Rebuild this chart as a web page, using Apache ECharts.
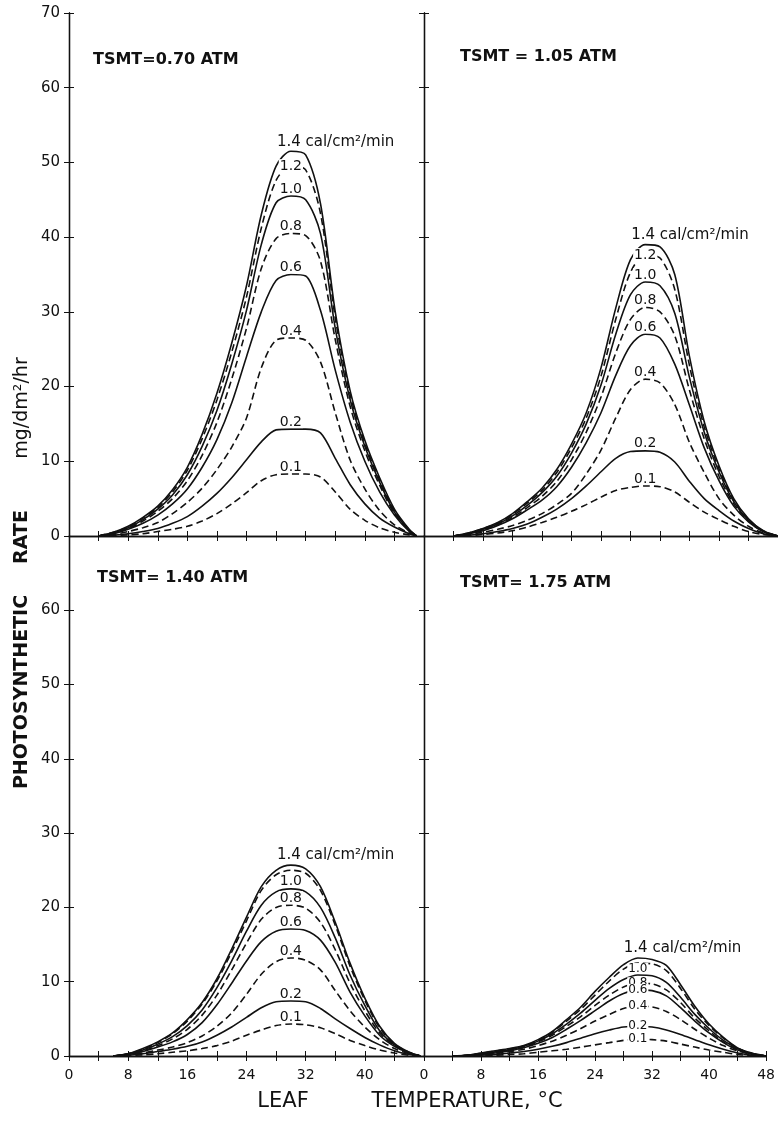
<!DOCTYPE html>
<html>
<head>
<meta charset="utf-8">
<script src="https://cdn.jsdelivr.net/npm/echarts@6/dist/echarts.min.js"></script>
<style>
  html, body { margin: 0; padding: 0; background: #fff; }
  #chart { width: 778px; height: 1124px; }
</style>
</head>
<body>
<div id="chart"></div>
<script>
// leaf temperature, deg C (x values of the read-off points)
var tempTL = [4, 6, 8, 10, 12, 14, 16, 18, 20, 22, 24, 26, 28, 30, 32, 34, 36, 38, 40, 42, 44, 46, 47];
var tempTR = [4, 6, 8, 10, 12, 14, 16, 18, 20, 22, 24, 26, 28, 30, 32, 34, 36, 38, 40, 42, 44, 46, 48];
var tempBL = [6, 8, 10, 12, 14, 16, 18, 20, 22, 24, 26, 28, 30, 32, 34, 36, 38, 40, 42, 44, 46, 47.5];
var tempBR = [4, 6, 8, 10, 12, 14, 16, 18, 20, 22, 24, 26, 28, 30, 32, 34, 36, 38, 40, 42, 44, 46, 48];

// irradiance levels, cal/cm2/min
var irradiance = ['1.4', '1.2', '1.0', '0.8', '0.6', '0.4', '0.2', '0.1'];

// TSMT = 0.70 ATM
var tl14 = [0, 0.5, 1.3, 2.5, 4.0, 6.2, 9.2, 13.6, 19.1, 25.8, 33.5, 43.0, 49.5, 51.5, 51.0, 44.5, 30.0, 19.5, 12.8, 7.8, 3.6, 0.9, 0];
var tl12 = [0, 0.5, 1.2, 2.4, 3.8, 5.9, 8.8, 13.0, 18.2, 24.6, 32.0, 41.2, 47.6, 49.5, 49.0, 43.2, 29.2, 19.0, 12.4, 7.5, 3.4, 0.8, 0];
var tl10 = [0, 0.4, 1.1, 2.2, 3.6, 5.5, 8.2, 12.0, 16.8, 23.0, 30.2, 39.0, 44.6, 45.5, 45.0, 40.5, 27.8, 18.3, 12.0, 7.2, 3.2, 0.8, 0];
var tl08 = [0, 0.4, 1.0, 2.0, 3.3, 5.0, 7.4, 10.8, 15.2, 21.0, 27.8, 35.8, 39.8, 40.5, 40.2, 36.8, 26.3, 17.4, 11.4, 6.8, 3.0, 0.7, 0];
var tl06 = [0, 0.3, 0.9, 1.7, 2.8, 4.3, 6.3, 9.2, 12.9, 17.8, 24.0, 30.0, 34.2, 35.0, 34.8, 30.2, 22.2, 15.3, 10.0, 5.9, 2.8, 0.6, 0];
var tl04 = [0, 0.2, 0.6, 1.1, 1.8, 3.0, 4.5, 6.4, 8.9, 11.9, 15.8, 22.5, 26.2, 26.5, 26.2, 23.3, 16.5, 10.2, 6.3, 3.4, 1.5, 0.4, 0];
var tl02 = [0, 0.1, 0.3, 0.6, 1.0, 1.7, 2.6, 4.0, 5.7, 7.8, 10.2, 12.6, 14.2, 14.3, 14.3, 13.8, 10.4, 6.9, 4.3, 2.4, 1.2, 0.3, 0];
var tl01 = [0, 0.05, 0.15, 0.3, 0.6, 0.9, 1.3, 2.0, 3.0, 4.3, 5.8, 7.4, 8.2, 8.3, 8.3, 7.9, 5.9, 3.6, 2.1, 1.1, 0.5, 0.15, 0];

// TSMT = 1.05 ATM
var tr14 = [0, 0.4, 1.0, 1.8, 3.0, 4.6, 6.4, 8.9, 12.3, 16.5, 22.5, 30.5, 37.0, 39.0, 38.7, 35.0, 24.0, 15.3, 9.4, 5.0, 2.3, 0.7, 0];
var tr12 = [0, 0.4, 1.0, 1.7, 2.9, 4.4, 6.1, 8.5, 11.8, 15.8, 21.4, 29.0, 35.3, 37.6, 37.2, 33.0, 22.8, 14.6, 9.0, 4.8, 2.2, 0.7, 0];
var tr10 = [0, 0.3, 0.9, 1.6, 2.7, 4.1, 5.8, 8.0, 11.1, 15.0, 20.2, 27.0, 32.3, 34.0, 33.5, 29.8, 21.2, 13.9, 8.6, 4.6, 2.1, 0.6, 0];
var tr08 = [0, 0.3, 0.8, 1.5, 2.5, 3.8, 5.3, 7.3, 10.2, 13.9, 18.6, 24.5, 29.0, 30.6, 30.0, 26.8, 19.5, 13.0, 8.0, 4.3, 2.0, 0.6, 0];
var tr06 = [0, 0.3, 0.7, 1.4, 2.3, 3.5, 4.8, 6.6, 9.2, 12.5, 16.5, 21.5, 25.5, 27.0, 26.5, 23.0, 17.5, 11.8, 7.4, 4.0, 1.9, 0.6, 0];
var tr04 = [0, 0.2, 0.5, 0.9, 1.4, 2.1, 3.0, 4.2, 5.7, 8.3, 11.5, 15.8, 19.6, 21.0, 20.5, 17.6, 12.5, 8.5, 5.0, 2.8, 1.3, 0.4, 0];
var tr02 = [0, 0.1, 0.3, 0.6, 1.0, 1.6, 2.5, 3.6, 5.0, 6.7, 8.6, 10.4, 11.3, 11.4, 11.2, 9.9, 7.3, 5.0, 3.4, 2.0, 1.0, 0.3, 0];
var tr01 = [0, 0.05, 0.2, 0.4, 0.7, 1.2, 1.8, 2.5, 3.3, 4.2, 5.2, 6.1, 6.5, 6.7, 6.6, 5.9, 4.5, 3.2, 2.2, 1.3, 0.6, 0.2, 0];

// TSMT = 1.40 ATM
var bl14 = [0, 0.3, 1.0, 1.9, 3.1, 4.9, 7.2, 10.4, 14.4, 18.7, 22.8, 25.0, 25.7, 25.2, 22.8, 18.0, 12.5, 7.8, 4.0, 1.7, 0.5, 0];
var bl12 = [0, 0.3, 0.9, 1.8, 3.0, 4.7, 7.0, 10.1, 14.0, 18.2, 22.3, 24.4, 25.0, 24.6, 22.3, 17.6, 12.1, 7.5, 3.8, 1.6, 0.5, 0];
var bl10 = [0, 0.3, 0.8, 1.6, 2.6, 4.1, 6.2, 9.2, 12.8, 16.8, 20.3, 22.1, 22.5, 22.1, 20.0, 15.9, 10.9, 6.8, 3.4, 1.5, 0.45, 0];
var bl08 = [0, 0.25, 0.7, 1.4, 2.3, 3.6, 5.5, 8.2, 11.6, 15.2, 18.4, 20.0, 20.3, 19.9, 18.0, 14.3, 9.8, 6.1, 3.1, 1.4, 0.4, 0];
var bl06 = [0, 0.2, 0.6, 1.2, 1.9, 2.9, 4.5, 6.9, 9.8, 12.8, 15.4, 16.8, 17.1, 16.9, 15.6, 12.6, 8.6, 5.4, 2.8, 1.3, 0.4, 0];
var bl04 = [0, 0.15, 0.4, 0.8, 1.2, 1.8, 2.7, 4.0, 5.8, 8.3, 11.0, 12.7, 13.2, 12.9, 11.6, 8.8, 6.1, 3.9, 2.2, 1.0, 0.3, 0];
var bl02 = [0, 0.1, 0.3, 0.6, 0.9, 1.3, 1.9, 2.8, 3.9, 5.2, 6.5, 7.3, 7.4, 7.3, 6.4, 5.0, 3.7, 2.5, 1.5, 0.7, 0.2, 0];
var bl01 = [0, 0.05, 0.15, 0.3, 0.5, 0.7, 1.0, 1.4, 2.0, 2.8, 3.5, 4.1, 4.3, 4.2, 3.8, 3.0, 2.1, 1.4, 0.8, 0.4, 0.1, 0];

// TSMT = 1.75 ATM
var br14 = [0, 0.1, 0.4, 0.7, 1.0, 1.4, 2.2, 3.3, 4.9, 6.6, 8.7, 10.6, 12.3, 13.2, 13.0, 12.2, 9.6, 6.7, 4.3, 2.5, 1.1, 0.4, 0];
var br12 = [0, 0.1, 0.35, 0.65, 0.95, 1.35, 2.1, 3.2, 4.7, 6.3, 8.2, 10.1, 11.7, 12.5, 12.4, 11.5, 9.1, 6.3, 4.1, 2.4, 1.05, 0.35, 0];
var br10 = [0, 0.09, 0.3, 0.55, 0.85, 1.3, 2.0, 3.0, 4.3, 5.8, 7.5, 9.1, 10.3, 10.9, 10.8, 9.9, 7.9, 5.6, 3.7, 2.1, 1.0, 0.3, 0];
var br08 = [0, 0.08, 0.25, 0.5, 0.8, 1.2, 1.9, 2.8, 4.0, 5.3, 6.8, 8.2, 9.3, 9.8, 9.7, 8.9, 7.2, 5.1, 3.4, 1.9, 0.9, 0.3, 0];
var br06 = [0, 0.07, 0.2, 0.4, 0.7, 1.1, 1.7, 2.5, 3.6, 4.8, 6.1, 7.4, 8.4, 8.9, 8.8, 8.1, 6.5, 4.7, 3.1, 1.8, 0.8, 0.25, 0];
var br04 = [0, 0.05, 0.15, 0.3, 0.6, 0.9, 1.4, 2.0, 2.8, 3.7, 4.7, 5.6, 6.4, 6.7, 6.6, 6.0, 4.9, 3.6, 2.4, 1.4, 0.7, 0.2, 0];
var br02 = [0, 0.05, 0.1, 0.2, 0.4, 0.6, 0.9, 1.3, 1.8, 2.4, 3.0, 3.5, 3.9, 4.0, 3.9, 3.5, 2.9, 2.2, 1.5, 0.9, 0.4, 0.1, 0];
var br01 = [0, 0.02, 0.05, 0.1, 0.2, 0.3, 0.5, 0.7, 0.9, 1.2, 1.5, 1.8, 2.1, 2.3, 2.2, 2.0, 1.6, 1.2, 0.8, 0.5, 0.2, 0.05, 0];

// axis ticks
var xTickStep = 4;
var xLabelStep = 8;
var yTickStep = 10;

var ink = '#111';
var font = 'DejaVu Sans';

var panels = [
    { title: 'TSMT=0.70 ATM', temps: tempTL, curves: [tl14, tl12, tl10, tl08, tl06, tl04, tl02, tl01],
      labelled: [1, 1, 1, 1, 1, 1, 1, 1], inline: ['1.2'] },
    { title: 'TSMT = 1.05 ATM', temps: tempTR, curves: [tr14, tr12, tr10, tr08, tr06, tr04, tr02, tr01],
      labelled: [1, 1, 1, 1, 1, 1, 1, 1], inline: ['1.2'] },
    { title: 'TSMT= 1.40 ATM', temps: tempBL, curves: [bl14, bl12, bl10, bl08, bl06, bl04, bl02, bl01],
      labelled: [1, 0, 1, 1, 1, 1, 1, 1], inline: [] },
    { title: 'TSMT= 1.75 ATM', temps: tempBR, curves: [br14, br12, br10, br08, br06, br04, br02, br01],
      labelled: [1, 0, 1, 1, 1, 1, 1, 1], inline: ['0.8', '0.6', '0.4', '0.2', '0.1'] }
];

// layout of the four frames (px)
var grids = [
    { left: 69, top: 13, width: 355, height: 523 },
    { left: 424, top: 13, width: 354, height: 523 },
    { left: 69, top: 536, width: 355, height: 520 },
    { left: 424, top: 536, width: 354, height: 520 }
];
var titlePos = [[93, 60], [460, 57], [97, 578], [460, 583]];

var axisLine = { show: true, lineStyle: { color: ink, width: 1.3 } };

function xAxisFor(i, position) {
    var bottomRow = i >= 2;
    var leftCol = i % 2 === 0;
    return {
        type: 'value', gridIndex: i, position: position,
        min: 0, max: 48, interval: xTickStep,
        axisLine: axisLine,
        axisTick: { show: true, inside: true, length: 5, lineStyle: { color: ink, width: 1 } },
        splitLine: { show: false },
        axisLabel: {
            show: position === 'bottom' && bottomRow,
            margin: 12, color: ink, fontFamily: font, fontSize: 14,
            showMinLabel: true, showMaxLabel: true,
            formatter: function (v) {
                if (v % xLabelStep !== 0) return '';
                if (leftCol && v === 48) return '';
                return String(v);
            }
        }
    };
}

function yAxisFor(i, position) {
    var topRow = i < 2;
    var leftCol = i % 2 === 0;
    return {
        type: 'value', gridIndex: i, position: position,
        min: 0, max: 70, interval: yTickStep,
        axisLine: axisLine,
        axisTick: { show: true, inside: true, length: 5, lineStyle: { color: ink, width: 1 } },
        splitLine: { show: false },
        axisLabel: {
            show: position === 'left' && leftCol,
            margin: 9, color: ink, fontFamily: font, fontSize: 15,
            formatter: function (v) {
                if (!topRow && v === 70) return '';
                return String(v);
            }
        }
    };
}

var xAxes = [], yAxes = [], series = [], graphics = [];

panels.forEach(function (p, i) {
    // axis index: bottom/left = 2*i, top/right = 2*i+1
    xAxes.push(xAxisFor(i, 'bottom'), xAxisFor(i, 'top'));
    yAxes.push(yAxisFor(i, 'left'), yAxisFor(i, 'right'));

    var labelData = [];
    p.curves.forEach(function (vals, k) {
        var name = irradiance[k];
        var dashed = k % 2 === 1;
        var pts = p.temps.map(function (t, j) { return [t, vals[j]]; });
        series.push({
            name: p.title + ' ' + name,
            type: 'line', xAxisIndex: 2 * i, yAxisIndex: 2 * i,
            data: pts, smooth: 0.3, symbol: 'none', silent: true,
            lineStyle: { color: ink, width: 1.6, type: dashed ? [7, 4] : 'solid' },
            z: 2
        });
        if (!p.labelled[k]) return;
        var best = 0;
        vals.forEach(function (v, j) { if (v > vals[best]) best = j; });
        var peak = [p.temps[best], vals[best]];
        var isInline = p.inline.indexOf(name) >= 0;
        var small = i === 3;
        var lab;
        if (k === 0) {
            lab = { show: true, position: 'top', distance: 2, align: 'left', offset: [-14, 0],
                    formatter: name + ' cal/cm\u00b2/min', fontSize: 15 };
        } else if (isInline) {
            lab = { show: true, position: 'inside', backgroundColor: '#fff', padding: [0, 1],
                    formatter: name, fontSize: small ? 12 : 14 };
        } else {
            lab = { show: true, position: 'top', distance: 1, backgroundColor: '#fff', padding: [0, 1, -1, 1],
                    formatter: name, fontSize: small ? 12 : 14 };
        }
        lab.color = ink;
        lab.opacity = 1;
        lab.fontFamily = font;
        labelData.push({ value: peak, label: lab });
    });
    series.push({
        type: 'scatter', xAxisIndex: 2 * i, yAxisIndex: 2 * i,
        data: labelData, symbolSize: 0, silent: true, z: 5,
        itemStyle: { opacity: 1, color: ink }
    });

    graphics.push({
        type: 'text', x: titlePos[i][0], y: titlePos[i][1],
        style: { text: p.title, font: 'bold 16px "' + font + '"', fill: ink, textVerticalAlign: 'middle' }
    });
});

// axis titles
var yTitleParts = [['PHOTOSYNTHETIC', 692, 'bold 19px'], ['RATE', 537, 'bold 19px'], ['mg/dm\u00b2/hr', 408, '19px']];
yTitleParts.forEach(function (t) {
    graphics.push({
        type: 'text', x: 22, y: t[1], rotation: Math.PI / 2,
        style: { text: t[0], font: t[2] + ' "' + font + '"', fill: ink, textAlign: 'center', textVerticalAlign: 'middle' }
    });
});
graphics.push({
    type: 'text', x: 283, y: 1102,
    style: { text: 'LEAF', font: '21px "' + font + '"', fill: ink, textAlign: 'center', textVerticalAlign: 'middle' }
});
graphics.push({
    type: 'text', x: 467, y: 1102,
    style: { text: 'TEMPERATURE, \u00b0C', font: '21px "' + font + '"', fill: ink, textAlign: 'center', textVerticalAlign: 'middle' }
});

var myChart = echarts.init(document.getElementById('chart'), null, { renderer: 'canvas' });
myChart.setOption({
    backgroundColor: '#fff',
    animation: false,
    textStyle: { fontFamily: font },
    grid: grids,
    xAxis: xAxes,
    yAxis: yAxes,
    series: series,
    graphic: graphics
});
</script>
</body>
</html>
